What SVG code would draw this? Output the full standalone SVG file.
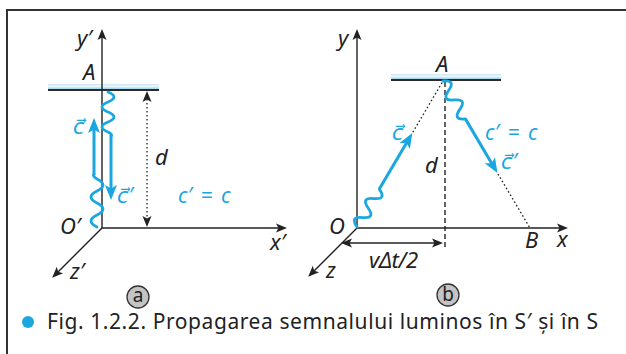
<svg xmlns="http://www.w3.org/2000/svg" width="626" height="354" viewBox="0 0 626 354">
<style>
.ax{stroke:#222;stroke-width:1.4;fill:none}
.bl{stroke:#1aa7e0;stroke-width:3;fill:none}
.wv{stroke:#1aa7e0;stroke-width:2.8;fill:none;stroke-linecap:round}
.dot{stroke:#222;stroke-width:1.3;fill:none;stroke-dasharray:1.6 2.4}
.dash{stroke:#222;stroke-width:1.4;fill:none;stroke-dasharray:5 3}
.lb{font-family:"Noto Sans","DejaVu Sans",sans-serif;font-style:italic;font-size:22px;fill:#222}
.lbb{font-family:"Noto Sans","DejaVu Sans",sans-serif;font-style:italic;font-size:21px;fill:#1aa7e0}
.eq{word-spacing:3px}
.cap{font-family:"Noto Sans","Open Sans",sans-serif;font-size:21px;fill:#222}
.circ{fill:#c4c4c4;stroke:#333;stroke-width:1.3}
.cl{font-family:"Noto Sans","Open Sans",sans-serif;font-size:19px;fill:#222;text-anchor:middle}
.mir{stroke:#2a2a2a;stroke-width:1.8}
</style>
<defs>
<marker id="ah" markerUnits="userSpaceOnUse" viewBox="-10 -6 16 12" refX="0" refY="0" markerWidth="16" markerHeight="12" orient="auto-start-reverse">
<path d="M-7,-4.5 L4,0 L-7,4.5 L-4.5,0 Z" fill="#222"/>
</marker>
<marker id="bh" markerUnits="userSpaceOnUse" viewBox="-12 -7 20 14" refX="0" refY="0" markerWidth="20" markerHeight="14" orient="auto">
<path d="M-9,-6 L6,0 L-9,6 L-5.5,0 Z" fill="#1aa7e0"/>
</marker>
<linearGradient id="glare" x1="0" y1="0" x2="0" y2="1">
<stop offset="0" stop-color="#cfe9f6"/>
<stop offset="0.45" stop-color="#e9f6fc"/>
<stop offset="1" stop-color="#8ccbe8"/>
</linearGradient>
</defs>

<g id="frame">
<path d="M7,354 V10 H626" stroke="#333" stroke-width="2" fill="none"/>
</g>

<g id="panel-a">
<g id="mirror-a">
<rect x="48" y="84" width="111" height="5.5" fill="url(#glare)"/>
<line class="mir" x1="48" y1="90" x2="159" y2="90"/>
</g>
<g id="axes-a">
<line class="ax" x1="102" y1="228" x2="102" y2="33" marker-end="url(#ah)"/>
<line class="ax" x1="102" y1="228" x2="283" y2="228" marker-end="url(#ah)"/>
<line class="ax" x1="102" y1="228" x2="55" y2="275" marker-end="url(#ah)"/>
</g>
<g id="connectors-a">
<line class="dot" x1="147" y1="95" x2="147" y2="223" marker-start="url(#ah)" marker-end="url(#ah)"/>
<path class="wv" d="M108,92 q12,5 0,10 t0,10 t0,10 t0,10 q5,2.5 3,4"/>
<line class="bl" x1="111" y1="135" x2="111" y2="194" marker-end="url(#bh)"/>
<path class="wv" d="M97,227 q-12,-6 0,-12 t0,-12 t0,-12 t0,-12 q-5,-3 -3,-5"/>
<line class="bl" x1="94" y1="175" x2="94" y2="124" marker-end="url(#bh)"/>
</g>
<g id="labels-a">
<text class="lb" x="77" y="46">y′</text>
<text class="lb" x="83" y="80">A</text>
<text class="lb" x="155" y="165">d</text>
<text class="lb" x="60" y="234">O′</text>
<text class="lb" x="270" y="250">x′</text>
<text class="lb" x="70" y="279">z′</text>
<text class="lbb" x="73" y="134">c⃗</text>
<text class="lbb" x="117" y="203">c⃗′</text>
<text class="lbb eq" x="178" y="203">c′ = c</text>
</g>
<g id="label-a">
<circle class="circ" cx="138" cy="297" r="11"/>
<text class="cl" x="138" y="302">a</text>
</g>
</g>

<g id="panel-b">
<g id="mirror-b">
<rect x="391" y="74" width="110" height="5.5" fill="url(#glare)"/>
<line class="mir" x1="391" y1="80" x2="501" y2="80"/>
</g>
<g id="axes-b">
<line class="ax" x1="357" y1="228" x2="357" y2="33" marker-end="url(#ah)"/>
<line class="ax" x1="357" y1="228" x2="564" y2="228" marker-end="url(#ah)"/>
<line class="ax" x1="357" y1="228" x2="311" y2="274" marker-end="url(#ah)"/>
</g>
<g id="connectors-b">
<line class="dash" x1="445" y1="82" x2="445" y2="248"/>
<line class="ax" x1="345" y1="243" x2="439" y2="243" marker-start="url(#ah)" marker-end="url(#ah)"/>
<g transform="translate(357,227) rotate(-59.5)">
<path class="wv" d="M0,0 q5.5,-12 11,0 t11,0 t11,0 t11,0"/>
<line class="bl" x1="44" y1="0" x2="103" y2="0" marker-end="url(#bh)"/>
<line class="dot" x1="110" y1="0" x2="169" y2="0"/>
</g>
<g transform="translate(443,81) rotate(59.4)">
<path class="wv" d="M0,0 q5.5,-12 11,0 t11,0 t11,0 t11,0"/>
<line class="bl" x1="44" y1="0" x2="101" y2="0" marker-end="url(#bh)"/>
<line class="dot" x1="108" y1="0" x2="171" y2="0"/>
</g>
</g>
<g id="labels-b">
<text class="lb" x="338" y="46">y</text>
<text class="lb" x="436" y="72">A</text>
<text class="lb" x="425" y="173">d</text>
<text class="lb" x="329" y="234">O</text>
<text class="lb" x="525" y="248">B</text>
<text class="lb" x="557" y="247">x</text>
<text class="lb" x="326" y="278">z</text>
<text class="lb" x="369" y="268" textLength="49">vΔt/2</text>
<text class="lbb" x="392" y="140">c⃗</text>
<text class="lbb eq" x="485" y="140">c′ = c</text>
<text class="lbb" x="501" y="169">c⃗′</text>
</g>
<g id="label-b">
<circle class="circ" cx="448" cy="295" r="11"/>
<text class="cl" x="448" y="300.5">b</text>
</g>
</g>

<g id="caption">
<circle cx="28" cy="322" r="6" fill="#1aa7e0"/>
<text class="cap" x="47" y="329" textLength="551">Fig. 1.2.2. Propagarea semnalului luminos în S′ și în S</text>
</g>
</svg>
